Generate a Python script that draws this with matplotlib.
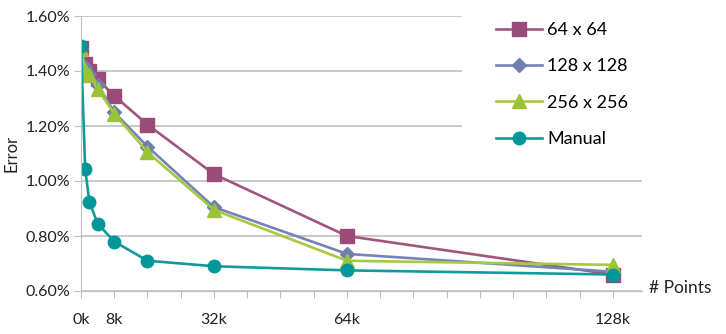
import matplotlib.pyplot as plt
from matplotlib.patches import Rectangle
from matplotlib.ticker import FuncFormatter

plt.rcParams['font.family'] = ['Lato', 'DejaVu Sans']

# data (x in thousands of points, y in %)
points_k = [0, 1, 2, 4, 8, 16, 32, 64, 128]
err_64 = [1.485, 1.425, 1.40, 1.37, 1.31, 1.205, 1.025, 0.80, 0.66]
err_128 = [1.485, 1.415, 1.39, 1.35, 1.25, 1.125, 0.905, 0.735, 0.67]
err_256 = [1.48, 1.405, 1.385, 1.335, 1.245, 1.105, 0.895, 0.71, 0.695]
err_manual = [1.49, 1.045, 0.925, 0.845, 0.78, 0.71, 0.69, 0.675, 0.66]

x_ticks = list(range(0, 129, 8))
x_labels = {0: '0k', 8: '8k', 32: '32k', 64: '64k', 128: '128k'}
y_ticks = [0.6, 0.8, 1.0, 1.2, 1.4, 1.6]

fig = plt.figure(figsize=(7.26, 3.34), dpi=100)
ax = fig.add_axes([81 / 726, 1 - 291 / 334, (642 - 81) / 726, (291 - 16) / 334])

ax.plot(points_k, err_64, color='#A0557F', lw=1.9, marker='s', ms=9.5,
        mfc='#9B4B7A', mec='#9B4B7A', label='64 x 64')
ax.plot(points_k, err_128, color='#7584B6', lw=1.9, marker='D', ms=7.5,
        mfc='#6F7FB2', mec='#6F7FB2', label='128 x 128')
ax.plot(points_k, err_256, color='#A6C93F', lw=1.9, marker='^', ms=10.5,
        mfc='#9BC33A', mec='#9BC33A', label='256 x 256')
ax.plot(points_k, err_manual, color='#12999B', lw=1.9, marker='o', ms=9,
        mfc='#00979A', mec='#00979A', label='Manual')

ax.set_xlim(0, 135)
ax.set_ylim(0.6, 1.6)
ax.set_xticks(x_ticks)
ax.set_xticklabels([x_labels.get(t, '') for t in x_ticks])
ax.set_yticks(y_ticks)
ax.yaxis.set_major_formatter(FuncFormatter(lambda v, p: '%.2f%%' % v))

ax.grid(True, axis='y', color='#BFBFBF', lw=1.2)
ax.set_axisbelow(True)
for s in ['top', 'right']:
    ax.spines[s].set_visible(False)
ax.spines['left'].set_color('#BFBFBF')
ax.spines['bottom'].set_color('#BFBFBF')
ax.tick_params(axis='x', colors='#BFBFBF', length=5, labelcolor='#222222',
               labelsize=11.5, pad=11)
ax.tick_params(axis='y', colors='#BFBFBF', length=5, labelcolor='#222222',
               labelsize=11.5, pad=3)

ax.set_ylabel('Error', fontsize=12, color='#222222', labelpad=4)
fig.text(649 / 726, 1 - 288 / 334, '# Points', fontsize=12.5, color='#222222',
         va='center', ha='left')

# white area behind the legend hides the gridlines there
fig.patches.append(Rectangle((462 / 726, 1 - 160 / 334), 1, 1, color='white',
                             transform=fig.transFigure, zorder=1))

leg = fig.legend(loc='upper left', bbox_to_anchor=(496 / 726, 1 - 22 / 334),
                 frameon=False, fontsize=13, handlelength=2.55,
                 labelspacing=1.13, borderpad=0, handletextpad=0.3,
                 borderaxespad=0)
leg.set_zorder(2)

fig.savefig('out.png', dpi=100)
